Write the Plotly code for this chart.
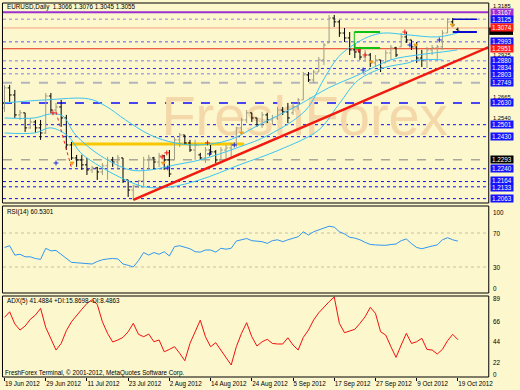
import plotly.graph_objects as go

W, H = 520, 390

# ---------------- data ----------------
date_labels = ["19 Jun 2012", "29 Jun 2012", "11 Jul 2012", "23 Jul 2012", "2 Aug 2012",
               "14 Aug 2012", "24 Aug 2012", "5 Sep 2012", "17 Sep 2012", "27 Sep 2012",
               "9 Oct 2012", "19 Oct 2012"]
date_bars = [0, 8, 16, 24, 32, 40, 48, 56, 64, 72, 80, 88]

opens = [1.2600, 1.2719, 1.2677, 1.2559, 1.2571, 1.2482, 1.2517, 1.2482, 1.2452, 1.2671,
         1.2588, 1.2606, 1.2541, 1.2381, 1.2304, 1.2292, 1.2263, 1.2233, 1.2245, 1.2221,
         1.2257, 1.2292, 1.2280, 1.2304, 1.2174, 1.2114, 1.2138, 1.2168, 1.2292, 1.2304,
         1.2280, 1.2316, 1.2292, 1.2292, 1.2411, 1.2440, 1.2393, 1.2351, 1.2322, 1.2304,
         1.2351, 1.2340, 1.2292, 1.2351, 1.2363, 1.2381, 1.2482, 1.2529, 1.2571, 1.2541,
         1.2500, 1.2559, 1.2529, 1.2541, 1.2588, 1.2577, 1.2571, 1.2606, 1.2648, 1.2796,
         1.2766, 1.2813, 1.2885, 1.2985, 1.3133, 1.3110, 1.3044, 1.3015, 1.2944, 1.2932,
         1.2902, 1.2914, 1.2867, 1.2885, 1.2867, 1.2926, 1.2956, 1.2962, 1.3021, 1.3003,
         1.2962, 1.2896, 1.2885, 1.2944, 1.2956, 1.2962, 1.3044, 1.3110, 1.3066]
highs = [1.2736, 1.2736, 1.2707, 1.2588, 1.2571, 1.2541, 1.2529, 1.2529, 1.2689, 1.2689,
         1.2630, 1.2648, 1.2559, 1.2399, 1.2322, 1.2322, 1.2304, 1.2257, 1.2251, 1.2274,
         1.2310, 1.2310, 1.2322, 1.2304, 1.2174, 1.2144, 1.2174, 1.2310, 1.2322, 1.2310,
         1.2334, 1.2322, 1.2351, 1.2428, 1.2452, 1.2440, 1.2411, 1.2411, 1.2334, 1.2369,
         1.2381, 1.2351, 1.2369, 1.2381, 1.2393, 1.2488, 1.2541, 1.2588, 1.2571, 1.2541,
         1.2577, 1.2571, 1.2559, 1.2606, 1.2606, 1.2630, 1.2630, 1.2659, 1.2813, 1.2813,
         1.2825, 1.2902, 1.2985, 1.3151, 1.3151, 1.3122, 1.3074, 1.3050, 1.2985, 1.2962,
         1.2944, 1.2926, 1.2914, 1.2885, 1.2944, 1.2973, 1.2962, 1.3044, 1.3050, 1.3003,
         1.2991, 1.2944, 1.2962, 1.2973, 1.2973, 1.3062, 1.3133, 1.3133, 1.3076]
lows = [1.2577, 1.2636, 1.2541, 1.2529, 1.2458, 1.2476, 1.2452, 1.2411, 1.2446, 1.2571,
        1.2559, 1.2488, 1.2351, 1.2292, 1.2251, 1.2233, 1.2203, 1.2215, 1.2174, 1.2203,
        1.2174, 1.2251, 1.2233, 1.2156, 1.2073, 1.2055, 1.2126, 1.2132, 1.2233, 1.2233,
        1.2251, 1.2233, 1.2191, 1.2292, 1.2369, 1.2381, 1.2340, 1.2292, 1.2292, 1.2274,
        1.2322, 1.2274, 1.2292, 1.2292, 1.2310, 1.2369, 1.2440, 1.2511, 1.2517, 1.2488,
        1.2482, 1.2511, 1.2500, 1.2529, 1.2559, 1.2511, 1.2559, 1.2588, 1.2648, 1.2754,
        1.2748, 1.2813, 1.2855, 1.2985, 1.3080, 1.3021, 1.2991, 1.2914, 1.2896, 1.2885,
        1.2873, 1.2843, 1.2843, 1.2813, 1.2867, 1.2885, 1.2902, 1.2962, 1.2985, 1.2944,
        1.2867, 1.2843, 1.2837, 1.2914, 1.2885, 1.2944, 1.3044, 1.3080, 1.3045]
closes = [1.2719, 1.2677, 1.2559, 1.2571, 1.2482, 1.2517, 1.2482, 1.2452, 1.2671, 1.2588,
          1.2606, 1.2541, 1.2381, 1.2304, 1.2292, 1.2263, 1.2233, 1.2245, 1.2221, 1.2257,
          1.2292, 1.2280, 1.2304, 1.2174, 1.2114, 1.2138, 1.2168, 1.2292, 1.2304, 1.2280,
          1.2316, 1.2292, 1.2209, 1.2411, 1.2440, 1.2393, 1.2351, 1.2381, 1.2304, 1.2351,
          1.2340, 1.2292, 1.2351, 1.2363, 1.2381, 1.2482, 1.2529, 1.2571, 1.2541, 1.2500,
          1.2559, 1.2529, 1.2541, 1.2588, 1.2577, 1.2541, 1.2606, 1.2648, 1.2796, 1.2766,
          1.2813, 1.2885, 1.2973, 1.3133, 1.3110, 1.3044, 1.3015, 1.2944, 1.2932, 1.2902,
          1.2914, 1.2867, 1.2885, 1.2837, 1.2926, 1.2956, 1.2914, 1.3021, 1.3003, 1.2962,
          1.2896, 1.2885, 1.2944, 1.2956, 1.2962, 1.3044, 1.3110, 1.3092, 1.3055]

# three light-blue average curves: (bar index, price)
ma_a_x = [0, 8.1, 16.3, 19.6, 23.5, 28.3, 33.1, 37.9, 43.7, 49.4, 57.1, 62.9, 68.7, 75, 80.2, 85, 87.9]
ma_a_y = [1.2630, 1.2648, 1.2654, 1.2612, 1.2529, 1.2440, 1.2393, 1.2381, 1.2411, 1.2500,
          1.2618, 1.2719, 1.2796, 1.2885, 1.2914, 1.2932, 1.2944]
ma_b_x = [0, 5.8, 9, 11.3, 13.8, 18.7, 24.4, 28.3, 33.1, 37.9, 45.6, 51.3, 58.5, 61.9, 64.8,
          67.7, 70.6, 73.5, 78.3, 84, 87.9]
ma_b_y = [1.2541, 1.2541, 1.2565, 1.2553, 1.2440, 1.2316, 1.2233, 1.2233, 1.2263, 1.2292,
          1.2369, 1.2440, 1.2588, 1.2766, 1.2902, 1.2973, 1.3021, 1.3044, 1.3033, 1.3021, 1.3044]
ma_c_x = [0, 5.8, 9, 12.3, 14.8, 18.7, 23.5, 27.3, 32.1, 37.9, 45.6, 53.3, 61, 64.8, 68.7,
          73.5, 78.3, 80.2, 85]
ma_c_y = [1.2452, 1.2452, 1.2482, 1.2434, 1.2334, 1.2251, 1.2174, 1.2132, 1.2132, 1.2174,
          1.2263, 1.2351, 1.2470, 1.2618, 1.2766, 1.2837, 1.2867, 1.2885, 1.2885]

# small signal marks
sig_red_x = [9.4, 30.6, 31.5, 39.4, 68.7, 70.0, 77.7]
sig_red_y = [1.2571, 1.2310, 1.2334, 1.2393, 1.2944, 1.2914, 1.3050]
sig_blue_x = [10.0, 31.7, 39.8, 44.6, 69.6, 78.7, 84.4]
sig_blue_y = [1.2274, 1.2245, 1.2328, 1.2381, 1.2825, 1.2973, 1.3003]
sig_orange_x = [13.1, 30.8, 46.0, 71.2, 79.8, 86.9]
sig_orange_y = [1.2274, 1.2274, 1.2452, 1.2873, 1.2973, 1.3092]

rsi = [53, 55, 44, 45, 42, 42, 40, 39, 52, 49, 49.5, 45, 40, 35.5, 35, 34.5, 34.5, 33.5,
       36.5, 38.5, 39.5, 40, 39.5, 33.5, 32, 30, 37.5, 47, 44, 47, 45, 48, 43, 54, 55, 53.5,
       51.5, 48, 47.5, 50, 50, 47.5, 52, 51, 52, 60.6, 62.5, 63.5, 61, 60, 59.8, 57.8, 61,
       62, 59.8, 62, 63.7, 65.6, 71.5, 67.6, 71.5, 73.5, 76, 78, 77, 71.5, 69, 65, 64, 62,
       59, 56.5, 56, 55.5, 55.5, 56.5, 57, 61, 63, 57.5, 53, 51.5, 53.5, 54.7, 56, 62, 64.5,
       62, 60.5]
adx = [70, 76, 63, 56.4, 60.7, 67.9, 72.5, 79.7, 59.3, 47.5, 34.9, 42, 55.7, 65.3, 72.5,
       78.7, 85, 89, 84, 65.3, 52.8, 43.5, 45.7, 48.5, 54.6, 63.6, 51.8, 49.2, 52.1, 43.8,
       45.7, 33, 35.6, 38.5, 31.4, 23.4, 42, 55, 67, 49.2, 38.5, 42.8, 34.9, 27, 18.8, 38.5,
       52.8, 64.3, 49.2, 39.2, 43.8, 46.4, 42, 41.4, 41.4, 48.1, 40.3, 34.9, 48.5, 56.4,
       67.2, 75, 81.5, 86.8, 92, 63.6, 53.5, 55.7, 57.2, 63.6, 70.7, 80.8, 74.4, 54.6, 51,
       38.5, 27, 40.3, 52.8, 42, 43.8, 47.5, 35.6, 34.9, 30.6, 35.6, 44.9, 51.8, 46]

levels = [1.3167, 1.3125, 1.3074, 1.2993, 1.2951, 1.2880, 1.2834, 1.2803, 1.2749, 1.2630,
          1.2501, 1.2430, 1.2293, 1.2240, 1.2164, 1.2133, 1.2063]
level_labels = ["1.3167", "1.3125", "1.3074", "1.2993", "1.2951", "1.2880", "1.2834", "1.2803",
                "1.2749", "1.2630", "1.2501", "1.2430", "1.2293", "1.2240", "1.2164", "1.2133",
                "1.2063"]
level_line_colors = ["#9b30d0", "#b4acd4", "#f4a582", "#8c8cf0", "#e8341c", "#a4a4e4", "#2a2aff",
                     "#a8a8e0", "#b4b4bc", "#0a0aff", "#0a0aff", "#0a0aff", "#a8a898", "#0a0aff",
                     "#0a0aff", "#0a0aff", "#0a0aff"]
level_dash = ["solid", "dot", "solid", "dot", "solid", "dot", "dot", "dot", "dash", "dash",
              "dot", "dot", "dash", "dot", "dot", "dot", "dot"]
level_width = [2, 1.5, 1, 1.5, 1, 1.5, 1, 1.5, 2, 1.5, 1, 1, 1.5, 1, 1, 1, 1]
level_box_colors = ["#9b30d0", "#1414ff", "#ff1a1a", "#1414ff", "#ff1a1a", "#1414ff", "#1414ff",
                    "#1414ff", "#1414ff", "#1414ff", "#1414ff", "#1414ff", "#000000", "#1414ff",
                    "#1414ff", "#1414ff", "#1414ff"]
level_box_shift = [0, 0, 0, 0, 0, 0, 1, -1, 0, 0, 0, 0, 0, 0, 1, -1, 0]
current_price = 1.3055
price_ticks = [1.3185, 1.2925, 1.2665, 1.2540, 1.2020]
price_tick_shift = [3, -2, 0, 0, -1]
rsi_levels = [70, 30]
rsi_ticks = [100, 70, 30, 0]
adx_ticks = [89, 66, 44, 22, 0]

trend_x = [25, 94]
trend_y = [1.2055, 1.2961]
yellow_x = [12.9, 46.5]
yellow_y = 1.2386
green_x = [67.9, 72.9]
green_y = [1.3050, 1.2956]
blue_x = [87.0, 91.7]
blue_y = [1.3125, 1.3050]
red_dots_x = [10, 13]
red_dots_y = [1.2577, 1.2245]

# ---------------- figure ----------------
BG = "#fcf7cc"
FONT = "Liberation Sans, Arial, sans-serif"
FS = 6.3


def px(x):
    return x / W


def py(y):
    return 1 - y / H


bars = list(range(len(opens)))
fig = go.Figure()

for mx, my in [(ma_a_x, ma_a_y), (ma_b_x, ma_b_y), (ma_c_x, ma_c_y)]:
    fig.add_trace(go.Scatter(x=mx, y=my, mode="lines", line=dict(color="#3cc4f2", width=1),
                             line_shape="spline", xaxis="x", yaxis="y", hoverinfo="skip",
                             showlegend=False))

fig.add_trace(go.Ohlc(x=bars, open=opens, high=highs, low=lows, close=closes,
                      increasing=dict(line=dict(color="#a09c84", width=1)),
                      decreasing=dict(line=dict(color="#000000", width=1)),
                      tickwidth=0.38, xaxis="x", yaxis="y", hoverinfo="skip",
                      showlegend=False))
fig.add_trace(go.Scatter(x=red_dots_x, y=red_dots_y, mode="lines",
                         line=dict(color="#f02020", width=1, dash="dot"),
                         xaxis="x", yaxis="y", hoverinfo="skip", showlegend=False))
for sx, sy, col, sym in [(sig_red_x, sig_red_y, "#f01818", "cross-thin"),
                         (sig_blue_x, sig_blue_y, "#1a2ae0", "cross-thin"),
                         (sig_orange_x, sig_orange_y, "#f0a020", "triangle-down")]:
    fig.add_trace(go.Scatter(x=sx, y=sy, mode="markers",
                             marker=dict(symbol=sym, size=3.5, color=col,
                                         line=dict(color=col, width=1)),
                             xaxis="x", yaxis="y", hoverinfo="skip", showlegend=False))

fig.add_trace(go.Scatter(x=bars, y=rsi, mode="lines", line=dict(color="#3296f0", width=1),
                         xaxis="x2", yaxis="y2", hoverinfo="skip", showlegend=False))
fig.add_trace(go.Scatter(x=bars, y=adx, mode="lines", line=dict(color="#f01010", width=1),
                         xaxis="x3", yaxis="y3", hoverinfo="skip", showlegend=False))

shapes = []
for lv, c, d, w in zip(levels, level_line_colors, level_dash, level_width):
    shapes.append(dict(type="line", xref="paper", yref="y", x0=px(3), x1=px(493), y0=lv, y1=lv,
                       line=dict(color=c, width=w, dash=d), layer="below"))
shapes.append(dict(type="line", xref="x", yref="y", x0=trend_x[0], x1=trend_x[1],
                   y0=trend_y[0], y1=trend_y[1], line=dict(color="#f01a10", width=2.5)))
shapes.append(dict(type="line", xref="x", yref="y", x0=yellow_x[0], x1=yellow_x[1],
                   y0=yellow_y, y1=yellow_y, line=dict(color="#f7c800", width=3), layer="below"))
for gy in green_y:
    shapes.append(dict(type="line", xref="x", yref="y", x0=green_x[0], x1=green_x[1],
                       y0=gy, y1=gy, line=dict(color="#10c010", width=2)))
shapes.append(dict(type="line", xref="x", yref="y", x0=green_x[0], x1=green_x[0],
                   y0=green_y[0], y1=green_y[1], line=dict(color="#10c010", width=1)))
for by, bw in zip(blue_y, [1.5, 2]):
    shapes.append(dict(type="line", xref="x", yref="y", x0=blue_x[0], x1=blue_x[1],
                       y0=by, y1=by, line=dict(color="#0a0acc", width=bw)))
for lv in rsi_levels:
    shapes.append(dict(type="line", xref="paper", yref="y2", x0=px(3), x1=px(493), y0=lv, y1=lv,
                       line=dict(color="#c8c0a0", width=1, dash="dot"), layer="below"))
shapes.append(dict(type="rect", xref="paper", yref="paper", x0=px(150), x1=px(465),
                   y0=py(140), y1=py(80), line=dict(width=0), fillcolor="rgba(0,0,0,0)",
                   layer="below",
                   label=dict(text="FreshForex", font=dict(size=56, color="#f4d8aa",
                                                           family="Liberation Sans, Arial"),
                              textposition="middle center")))
for (t, b) in [(3, 203), (206, 293), (296, 377)]:
    shapes.append(dict(type="rect", xref="paper", yref="paper", x0=px(2.5), x1=px(493.5),
                       y0=py(b), y1=py(t), line=dict(color="#000000", width=1)))
shapes.append(dict(type="rect", xref="paper", yref="y", x0=px(494), x1=px(518),
                   y0=current_price - 0.0022, y1=current_price + 0.0022,
                   fillcolor="#000000", line=dict(width=0)))

ann = []
for v, sh in zip(price_ticks, price_tick_shift):
    ann.append(dict(xref="paper", yref="y", x=px(496), y=v, text=f"{v:.4f}", showarrow=False,
                    xanchor="left", yanchor="middle", yshift=sh,
                    font=dict(color="#000000", size=5.8, family=FONT)))
for lv, lab, bc, sh in zip(levels, level_labels, level_box_colors, level_box_shift):
    ann.append(dict(xref="paper", yref="y", x=px(495), y=lv, text=lab, showarrow=False,
                    xanchor="left", yanchor="middle", bgcolor=bc, yshift=sh,
                    font=dict(color="#ffffff", size=FS, family=FONT), width=22, height=7,
                    borderpad=0))
ann.append(dict(xref="paper", yref="paper", x=px(5), y=py(7),
                text="EURUSD,Daily  1.3066 1.3076 1.3045 1.3055", showarrow=False,
                xanchor="left", yanchor="middle", font=dict(size=FS, color="#000", family=FONT)))
ann.append(dict(xref="paper", yref="paper", x=px(5), y=py(212), text="RSI(14) 60.5301",
                showarrow=False, xanchor="left", yanchor="middle",
                font=dict(size=FS, color="#000", family=FONT)))
ann.append(dict(xref="paper", yref="paper", x=px(5), y=py(301),
                text="ADX(5) 41.4884 +DI:15.8698 -DI:8.4863", showarrow=False,
                xanchor="left", yanchor="middle", font=dict(size=FS, color="#000", family=FONT)))
ann.append(dict(xref="paper", yref="paper", x=px(3), y=py(373),
                text="FreshForex Terminal, © 2001-2012, MetaQuotes Software Corp.",
                showarrow=False, xanchor="left", yanchor="middle",
                font=dict(size=FS, color="#000", family=FONT)))
for v, yy in zip(rsi_ticks, [213, 233, 267, 288]):
    ann.append(dict(xref="paper", yref="paper", x=px(496), y=py(yy), text=str(v),
                    showarrow=False, xanchor="left", yanchor="middle",
                    font=dict(size=FS, color="#000", family=FONT)))
for v, yy in zip(adx_ticks, [298, 321, 341, 362, 374]):
    ann.append(dict(xref="paper", yref="paper", x=px(496), y=py(yy), text=str(v),
                    showarrow=False, xanchor="left", yanchor="middle",
                    font=dict(size=FS, color="#000", family=FONT)))

xr = [-0.3, 93.9]
ax_common = dict(range=xr, domain=[px(3), px(493)], showgrid=False, zeroline=False,
                 showline=False, fixedrange=True)
fig.update_layout(
    width=W, height=H, margin=dict(l=0, r=0, t=0, b=0), autosize=False,
    paper_bgcolor=BG, plot_bgcolor="rgba(0,0,0,0)", showlegend=False,
    xaxis=dict(**ax_common, anchor="y", showticklabels=False, rangeslider=dict(visible=False)),
    xaxis2=dict(**ax_common, anchor="y2", showticklabels=False, matches="x"),
    xaxis3=dict(**ax_common, anchor="y3", matches="x", tickmode="array", tickvals=date_bars,
                ticktext=date_labels, ticks="outside", ticklen=3, tickcolor="#000",
                tickangle=0, ticklabelposition="outside right",
                tickfont=dict(size=FS, color="#000", family=FONT)),
    yaxis=dict(domain=[py(203), py(3)], range=[1.2037, 1.3222], side="right", anchor="x",
               showgrid=False, zeroline=False, showticklabels=False, fixedrange=True),
    yaxis2=dict(domain=[py(293), py(206)], range=[-0.6, 101.8], anchor="x2",
                showticklabels=False, showgrid=False, zeroline=False, fixedrange=True),
    yaxis3=dict(domain=[py(377), py(296)], range=[5.9, 93], anchor="x3",
                showticklabels=False, showgrid=False, zeroline=False, fixedrange=True),
    shapes=shapes, annotations=ann,
)

fig.write_html("out.html", config={"displayModeBar": False})
with open("out.html", "r", encoding="utf-8") as f:
    html = f.read()
html = html.replace("<head>", "<head><style>html,body{margin:0;padding:0;overflow:hidden;}</style>", 1)
with open("out.html", "w", encoding="utf-8") as f:
    f.write(html)
